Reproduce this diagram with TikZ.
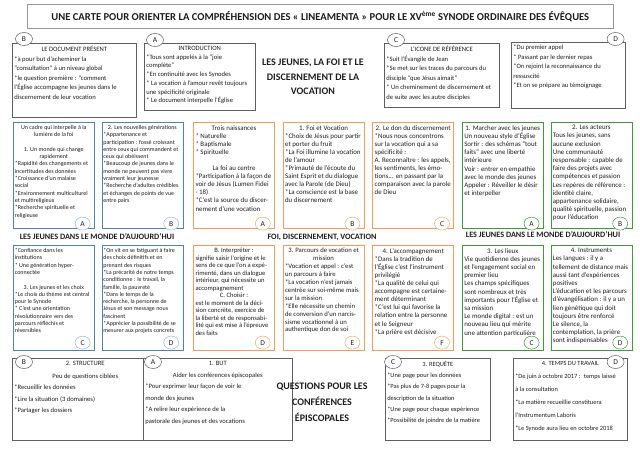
\documentclass[tikz,border=0pt]{standalone}
\usepackage{fontspec}
\setmainfont{Carlito}
\usetikzlibrary{positioning,shapes.geometric}

\definecolor{framegray}{RGB}{95,95,95}
\definecolor{titlegray}{RGB}{150,150,150}
\definecolor{jeunesblue}{RGB}{84,130,176}
\definecolor{tagblue}{RGB}{150,185,220}
\definecolor{foiorange}{RGB}{240,155,95}
\definecolor{tagorange}{RGB}{242,170,120}
\definecolor{pastgreen}{RGB}{70,150,60}
\definecolor{textgray}{RGB}{30,30,30}

\newcommand{\hd}[1]{\par{\centering #1\par}}

\begin{document}
\begin{tikzpicture}[x=1pt, y=-1pt,
    card/.style 2 args={fill=white, line width=0.6pt, inner xsep=2pt, inner ysep=3pt, text=textgray,
        execute at begin node={\begin{minipage}[c][#2pt][t]{#1pt}\raggedright},
        execute at end node={\end{minipage}}},
    note/.style 2 args={card={#1}{#2}, draw=framegray, font=\fontsize{6.6}{9.5}\selectfont},
    query/.style 2 args={card={#1}{#2}, draw=framegray, font=\fontsize{6.6}{11.5}\selectfont},
    jeunes/.style={card={78}{#1}, inner xsep=1.5pt, draw=jeunesblue, font=\fontsize{6}{7.3}\selectfont},
    foi/.style={card={77}{#1}, draw=foiorange, font=\fontsize{6.9}{8.1}\selectfont},
    pastorale/.style={card={77}{#1}, draw=pastgreen, font=\fontsize{6.9}{8.2}\selectfont},
    tag/.style={ellipse, draw=#1, fill=white, line width=0.5pt, minimum width=15pt, minimum height=13pt, inner sep=0pt, font=\fontsize{7.5}{8}\selectfont, text=textgray},
    toptag/.style={tag=framegray, minimum width=17pt},
    theme/.style={font=\fontsize{10}{#1}\selectfont\bfseries, align=center, text=textgray},
    rowhead/.style={font=\fontsize{8.2}{9}\selectfont\bfseries, text=textgray, inner sep=0pt}
]
\useasboundingbox (0,0) rectangle (640,452);

% titre
\node[draw=titlegray, line width=0.6pt, minimum width=586pt, minimum height=24pt, anchor=north west,
    font=\fontsize{10.6}{12}\selectfont\bfseries, text=textgray] (title) at (27,4)
    {UNE CARTE POUR ORIENTER LA COMPRÉHENSION DES « LINEAMENTA » POUR LE XV\textsuperscript{ème} SYNODE ORDINAIRE DES ÉVÊQUES};

% rangee du haut
\node[note={120}{68}, anchor=north west] (docu) at (12,43) {\hd{LE DOCUMENT PRÉSENT}
    *à pour but d’acheminer la\\ "consultation" à un niveau global\\ {}*le question première : "comment\\
    l’Église accompagne les jeunes dans le\\ discernement de leur vocation};
\node[note={107}{61}, anchor=north west, font=\fontsize{6.6}{8.7}\selectfont] (intro) at (144,43) {\hd{INTRODUCTION}
    *Tous sont appelés à la "joie\\ complète"\\ {}*En continuité avec les Synodes\\
    {}* La vocation à l’amour revêt toujours\\ une spécificité originale\\ {}* Le document interpelle l’Église};
\node[theme=14.5] (jeunesfoi) at (313,77) {LES JEUNES, LA FOI ET LE\\ DISCERNEMENT DE LA\\ VOCATION};
\node[note={111}{58}, anchor=north west] (icone) at (384,43) {\hd{L’ICONE DE RÉFÉRENCE}
    *Suit l’Évangile de Jean\\ {}*Se met sur les traces du parcours du\\ disciple "que Jésus aimait"\\
    {}* Un cheminement de discernement et\\ de suite avec les autre disciples};
\node[note={110}{60}, anchor=north west] (appel) at (511,42) {*Du premier appel\\
    {}* Passant par le dernier repas\\ {}*On rejoint la reconnaissance du\\ ressuscité\\ {}*Et on se prépare au témoignage};

\node[toptag] (tdocu) at ([shift={(12,-4)}]docu.north west) {B};
\node[toptag] (tintro) at ([shift={(11,-3)}]intro.north west) {A};
\node[toptag] (ticone) at ([shift={(12,-3)}]icone.north west) {C};
\node[toptag] (tappel) at ([shift={(-10,-3)}]appel.north east) {D};

% rangee du milieu
\node[jeunes=100, anchor=north west] (jb1) at (13,122) {\hd{Un cadre qui interpelle à la\\ lumière de la foi\\[\baselineskip]
    1. Un monde qui change\\ rapidement}
    *Rapidité des changements et\\ incertitudes des données\\ {}*Croissance d’un malaise\\ social\\
    {}*Environnement multiculturel\\ et multireligieux\\ {}*Recherche spirituelle et\\ religieuse};
\node[jeunes=100, right=7pt of jb1] (jb2) {\hd{2. Les nouvelles générations}
    *Appartenance et\\ participation : fossé croissant\\ entre ceux qui commandent et\\ ceux qui obéissent\\
    {}*Beaucoup de jeunes dans le\\ monde ne peuvent pas vivre\\ vraiment leur jeunesse\\
    {}*Recherche d’adultes crédibles\\ et échanges de points de vue\\ entre pairs};
\node[foi=100, right=10pt of jb2] (fo1) {\hd{Trois naissances}
    * Naturelle\\ {}* Baptismale\\ {}* Spirituelle\\[\baselineskip]
    \hd{La foi au centre}
    *Participation à la façon de\\ voir de Jésus (Lumen Fidei\\ - 18)\\ {}*C’est la source du discer-\\ nement d’une vocation};
\node[foi=100, right=8pt of fo1] (fo2) {\hd{1. Foi et Vocation}
    *Choix de Jésus pour partir\\ et porter du fruit\\ {}*La Foi illumine la vocation\\ de l’amour\\
    {}*Primauté de l’écoute du\\ Saint Esprit et du dialogue\\ avec la Parole (de Dieu)\\
    {}*La conscience est la base\\ du discernement};
\node[foi=100, right=8pt of fo2] (fo3) {\hd{2. Le don du discernement}
    *Nous nous concentrons\\ sur la vocation qui a sa\\ spécificité :\\ A. Reconnaître : les appels,\\
    les sentiments, les émo-\\ tions... en passant par la\\ comparaison avec la parole\\ de Dieu};
\node[pastorale=100, right=8pt of fo3] (pg1) {\hd{1. Marcher avec les jeunes}
    Un nouveau style d’Église\\ Sortir : des schémas "tout\\ faits" avec une liberté\\ intérieure\\
    Voir : entrer en empathie\\ avec le monde des jeunes\\ Appeler : Réveiller le désir\\ et interpeller};
\node[pastorale=100, right=7pt of pg1] (pg2) {\hd{2. Les acteurs}
    Tous les jeunes, sans\\ aucune exclusion\\ Une communauté\\ responsable : capable de\\
    faire des projets avec\\ compétences et passion\\ Les repères de référence :\\ identité claire,\\
    appartenance solidaire,\\ qualité spirituelle, passion\\ pour l’éducation};

\node[rowhead] (hjeunes) at (97,237) {LES JEUNES DANS LE MONDE D’AUJOURD’HUI};
\node[rowhead] (hfoi) at (322,237) {FOI, DISCERNEMENT, VOCATION};
\node[rowhead] (hpastorale) at (543,235) {LES JEUNES DANS LE MONDE D’AUJOURD’HUI};

\node[jeunes=99, anchor=north west] (jb3) at (13,245) {*Confiance dans les\\ institutions\\
    {}* Une génération hyper-\\ connectée\\[\baselineskip]
    \hd{3. Les jeunes et les choix}
    *Le choix du thème est central\\ pour le Synode\\ {}* C’est une orientation\\
    révolutionnaire vers des\\ parcours réfléchis et\\ réversibles};
\node[jeunes=99, right=7pt of jb3] (jb4) {*On vit en se fatiguant à faire\\ des choix définitifs et en\\
    prenant des risques\\ {}*La précarité de notre temps\\ conditionne : le travail, la\\ famille, la pauvreté\\
    {}*Dans le temps de la\\ recherche, la personne de\\ Jésus et son message nous\\ fascinent\\
    {}*Apprécier la possibilité de se\\ mesurer aux projets concrets};
\node[foi=99, right=10pt of jb4, font=\fontsize{6.6}{7.5}\selectfont] (fo4) {\hd{B. Interpréter :}
    signifie saisir l’origine et le\\ sens de ce que l’on a expé-\\ rimenté, dans un dialogue\\
    intérieur, qui nécessite un\\ accompagnement
    \hd{C. Choisir :}
    est le moment de la déci-\\ sion concrète, exercice de\\ la liberté et de responsabi-\\
    lité qui est mise à l’épreuve\\ des faits};
\node[foi=99, right=8pt of fo4, font=\fontsize{6.7}{7.9}\selectfont] (fo5) {\hd{3. Parcours de vocation et\\ mission}
    *Vocation et appel : c’est\\ un parcours à faire\\ {}*La vocation n’est jamais\\
    centrée sur soi-même mais\\ sur la mission\\ {}*Elle nécessite un chemin\\
    de conversion d’un narcis-\\ sisme vocationnel à un\\ authentique don de soi};
\node[foi=99, right=8pt of fo5] (fo6) {\hd{4. L’accompagnement}
    *Dans la tradition de\\ l’Église c’est l’instrument\\ privilégié\\ {}*La qualité de celui qui\\
    accompagne est certaine-\\ ment déterminant\\ {}*C’est lui qui favorise la\\
    relation entre la personne\\ et le Seigneur\\ {}*La prière est décisive};
\node[pastorale=99, right=8pt of fo6] (pg3) {\hd{3. Les lieux}
    Vie quotidienne des jeunes\\ et l’engagement social en\\ premier lieu\\ Les champs spécifiques\\
    sont nombreux et très\\ importants pour l’Église et\\ sa mission\\ Le monde digital : est un\\
    nouveau lieu qui mérite\\ une attention particulière};
\node[pastorale=99, right=7pt of pg3] (pg4) {\hd{4. Instruments}
    Les langues : il y a\\ tellement de distance mais\\ aussi tant d’expériences\\ positives\\
    L’éducation et les parcours\\ d’évangélisation : il y a un\\ lien génétique qui doit\\
    toujours être renforcé\\ Le silence, la\\ contemplation, la prière\\ sont indispensables};

\foreach \cname/\tagname/\tagcol in {jb1/A/tagblue, jb2/B/tagblue, fo1/A/tagorange, fo2/B/tagorange,
        fo3/C/tagorange, pg1/A/pastgreen, pg2/B/pastgreen}
    \node[tag=\tagcol] (t\cname) at ([shift={(-12,-5)}]\cname.south east) {\tagname};
\foreach \cname/\tagname/\tagcol in {jb3/C/tagblue, jb4/D/tagblue, fo4/D/tagorange, fo5/E/tagorange,
        fo6/F/tagorange, pg3/C/pastgreen, pg4/D/pastgreen}
    \node[tag=\tagcol] (t\cname) at ([shift={(-12,-8)}]\cname.south east) {\tagname};

% rangee du bas
\node[query={142}{76}, anchor=north west] (struct) at (12,358) {\hd{2. STRUCTURE\\[1pt] Peu de questions ciblées}
    *Recueillir les données\\ {}*Lire la situation (3 domaines)\\ {}*Partager les dossiers};
\node[query={145}{76}, anchor=north west] (but) at (143,358) {\hd{1. BUT\\ Aider les conférences épiscopales}
    *Pour exprimer leur façon de voir le\\ monde des jeunes\\ {}*A relire leur expérience de la\\
    pastorale des jeunes et des vocations};
\node[theme=16] (questions) at (322,402) {QUESTIONS POUR LES\\ CONFÉRENCES\\ ÉPISCOPALES};
\node[query={101}{76}, anchor=north west, font=\fontsize{6.4}{11.2}\selectfont] (requete) at (385,358) {\hd{3. REQUÊTE}
    *Une page pour les données\\ {}*Pas plus de 7-8 pages pour la\\ description de la situation\\
    {}*Une page pour chaque expérience\\ {}*Possibilité de joindre de la matière};
\node[query={110}{76}, anchor=north west, font=\fontsize{6.4}{13}\selectfont] (temps) at (513,358) {\hd{4. TEMPS DU TRAVAIL}
    *De juin à octobre 2017 :~ temps laissé\\ à la consultation\\ {}*La matière recueillie constituera\\
    l’Instrumentum Laboris\\ {}*Le Synode aura lieu en octobre 2018};

\node[toptag] (tstruct) at ([shift={(12,4)}]struct.north west) {B};
\node[toptag] (tbut) at ([shift={(10,4)}]but.north west) {A};
\node[toptag] (trequete) at ([shift={(8,4)}]requete.north west) {C};
\node[toptag] (ttemps) at ([shift={(-12,4)}]temps.north east) {D};
\end{tikzpicture}
\end{document}
